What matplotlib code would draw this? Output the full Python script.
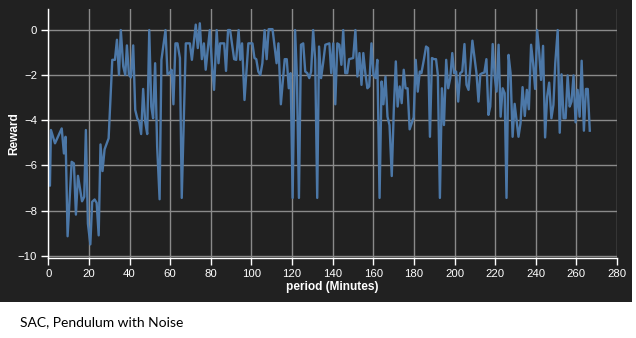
import matplotlib
matplotlib.use("Agg")
import matplotlib.pyplot as plt

# Reward per training period (minutes)
period = [0.0, 0.8, 1.3, 3.3, 6.6, 7.7, 8.5, 9.5, 11.5, 12.6, 13.6, 14.6, 16.6, 17.7, 18.5, 19.5,
          20.7, 21.6, 22.8, 23.8, 24.8, 25.7, 26.7, 27.7, 29.7, 31.5, 32.8, 33.8, 34.8, 35.7,
          36.9, 37.9, 38.7, 39.7, 40.7, 41.8, 42.8, 43.8, 44.8, 45.7, 46.7, 47.7, 48.7, 49.7,
          50.7, 51.6, 52.6, 53.6, 54.8, 55.7, 57.7, 58.7, 59.7, 60.7, 61.6, 62.6, 63.6, 64.8,
          65.7, 67.7, 69.7, 70.7, 72.6, 73.6, 74.6, 75.6, 76.6, 77.5, 78.5, 79.5, 80.7, 81.6,
          82.9, 83.8, 84.6, 86.6, 87.5, 88.5, 89.5, 91.5, 92.5, 93.7, 94.5, 95.4, 96.6, 98.5,
          100.5, 101.5, 102.4, 103.4, 104.4, 105.4, 106.5, 107.5, 108.5, 110.4, 112.4, 113.3,
          114.5, 116.4, 117.4, 118.4, 119.3, 120.3, 121.5, 122.4, 123.4, 124.4, 125.5, 126.5,
          127.5, 128.5, 129.4, 130.4, 131.4, 132.4, 133.3, 134.3, 135.3, 136.4, 138.4, 139.3,
          140.3, 141.3, 142.3, 143.3, 144.3, 145.2, 146.2, 147.2, 148.1, 150.1, 151.2, 152.2,
          153.2, 154.2, 155.1, 156.1, 157.1, 158.0, 159.1, 160.1, 161.1, 162.0, 163.1, 164.1,
          165.0, 166.0, 167.0, 168.0, 169.1, 170.1, 171.1, 172.0, 173.0, 174.0, 175.0, 175.9,
          176.9, 177.9, 178.9, 179.9, 180.9, 181.9, 182.9, 183.7, 184.9, 186.0, 187.0, 187.9,
          188.9, 189.9, 190.9, 191.8, 192.8, 193.8, 194.8, 195.9, 196.9, 197.9, 198.9, 199.8,
          200.8, 201.8, 202.8, 203.8, 204.9, 205.9, 206.9, 208.8, 210.8, 211.8, 212.7, 213.7,
          214.7, 215.7, 216.7, 217.6, 218.8, 219.8, 220.7, 221.7, 222.7, 223.7, 224.7, 225.6,
          226.6, 227.6, 228.6, 229.6, 230.6, 231.5, 232.5, 233.5, 234.6, 235.6, 236.6, 237.7,
          238.7, 239.7, 240.7, 241.6, 242.6, 243.6, 244.6, 245.6, 246.6, 247.7, 248.7, 249.6,
          250.8, 251.8, 252.7, 253.7, 254.7, 255.7, 256.7, 257.6, 258.6, 259.6, 260.6, 261.6,
          262.6, 263.7, 264.7, 265.6, 266.6]

reward = [-6.8, -6.9, -4.43, -5.02, -4.36, -5.47, -4.73, -9.14, -5.84, -5.91, -8.18, -6.46, -7.59,
          -7.39, -4.43, -8.58, -9.5, -7.61, -7.51, -7.66, -9.1, -5.07, -6.25, -5.29, -4.8,
          -1.32, -1.32, -0.43, -1.99, 0.0, -1.61, -1.99, -0.68, -1.99, -2.1, -0.68, -3.54,
          -3.91, -4.09, -4.61, -2.61, -4.06, -4.61, 0.0, -3.39, -3.91, -1.47, -5.17, -7.5,
          -1.32, 0.0, -1.96, -1.91, -1.76, -3.29, -0.59, -0.59, -1.24, -7.44, -0.59, -0.59,
          -1.32, 0.24, -0.8, 0.3, -1.29, -0.59, -1.76, -0.87, 0.0, -1.69, -2.65, 0.0, -1.47,
          -0.59, -0.59, -1.81, 0.0, 0.0, -1.29, -1.32, 0.0, -1.32, -0.59, -3.1, -0.59,
          -0.59, -1.24, -1.29, -1.84, -1.99, -1.47, 0.0, -1.29, 0.04, 0.04, -1.47, -0.59,
          -3.29, -1.29, -1.29, -2.58, -1.91, -7.44, 0.0, -2.06, -7.44, -0.65, -0.59, -1.84,
          -1.91, -2.13, -1.84, 0.0, -1.32, -7.44, -0.73, -2.13, -1.47, -0.65, -0.59, -1.91,
          -0.59, -3.29, -0.59, -0.65, -1.54, 0.0, -1.91, -1.91, -1.29, -1.24, 0.0, -2.06,
          -1.02, -2.43, -1.02, -1.91, -2.58, -2.5, -0.59, -1.99, -2.13, -1.32, -7.44, -2.28,
          -3.29, -2.06, -3.84, -4.21, -6.47, -3.54, -1.39, -3.39, -2.5, -3.24, -1.76, -2.58,
          -2.58, -4.4, -4.13, -3.87, -1.32, -2.73, -1.84, -1.91, -1.32, -0.73, -0.8, -4.73,
          -1.24, -1.29, -1.29, -1.99, -7.44, -2.58, -4.21, -1.32, -2.58, -2.13, -1.02, -1.91,
          -1.84, -3.17, -1.91, -1.84, -0.62, -2.43, -2.65, -0.47, -1.91, -3.17, -1.96, -1.91,
          -1.88, -1.29, -3.76, -3.39, -0.62, -2.06, -2.73, -0.65, -3.84, -2.58, -2.8, -7.44,
          -1.1, -1.91, -4.73, -3.27, -4.06, -4.73, -4.13, -2.53, -3.81, -2.65, -3.51, -0.65,
          -1.47, -2.61, 0.0, -0.87, -2.21, -0.7, -4.76, -2.95, -2.33, -3.91, -3.32, -1.47,
          0.0, -4.55, -1.96, -3.91, -3.91, -2.01, -3.39, -3.17, -2.01, -4.09, -2.65, -3.84,
          -1.36, -4.46, -2.61, -2.61, -4.46]

x_ticks = list(range(0, 281, 20))
y_ticks = [0, -2, -4, -6, -8, -10]

W, H = 636, 338
BG = "#212121"
fig = plt.figure(figsize=(W / 100, H / 100), dpi=100)
fig.patch.set_facecolor("white")

# dark panel behind the chart
panel = fig.add_axes([0, 1 - 302 / H, 632 / W, 302 / H], zorder=0)
panel.set_facecolor(BG)
panel.set_axis_off()
panel.add_artist(panel.patch)

left, right, top, bottom = 48.3, 617.0, 9.3, 257.7
ax = fig.add_axes([left / W, 1 - bottom / H, (right - left) / W, (bottom - top) / H], zorder=2)
ax.set_facecolor(BG)

ax.plot(period, reward, color="#4c78a8", linewidth=1.7, zorder=3)

ax.set_xlim(0, 280)
ax.set_ylim(-10.09, 0.92)
ax.set_xticks(x_ticks)
ax.set_yticks(y_ticks)
ax.set_yticklabels(["0" if v == 0 else f"\u2212{abs(v)}" for v in y_ticks])
ax.grid(True, color="#8a8a8a", linewidth=1.0, zorder=1)
ax.set_axisbelow(True)

for side in ("top", "right"):
    ax.spines[side].set_visible(False)
for side in ("left", "bottom"):
    ax.spines[side].set_color("white")
    ax.spines[side].set_linewidth(1.0)
    ax.spines[side].set_zorder(4)

font = "Liberation Sans"
ax.tick_params(colors="white", length=5, width=1, labelsize=8.2, pad=3)
for lab in ax.get_xticklabels() + ax.get_yticklabels():
    lab.set_fontfamily(font)

ax.set_xlabel("period (Minutes)", color="white", fontsize=8.6, fontweight="bold",
              fontfamily=font)
ax.xaxis.set_label_coords(0.5, -(287 - bottom) / (bottom - top))
ax.set_ylabel("Reward", color="white", fontsize=8.6, fontweight="bold", fontfamily=font)
ax.yaxis.set_label_coords(-(left - 14) / (right - left), 0.5)
ax.xaxis.label.set_va("center")
ax.yaxis.label.set_va("center")

fig.text(20 / W, 1 - 322 / H, "SAC, Pendulum with Noise", color="black", fontsize=10,
         fontfamily="Lato", va="center", ha="left")

fig.savefig("out.png", dpi=100, facecolor=fig.get_facecolor())
